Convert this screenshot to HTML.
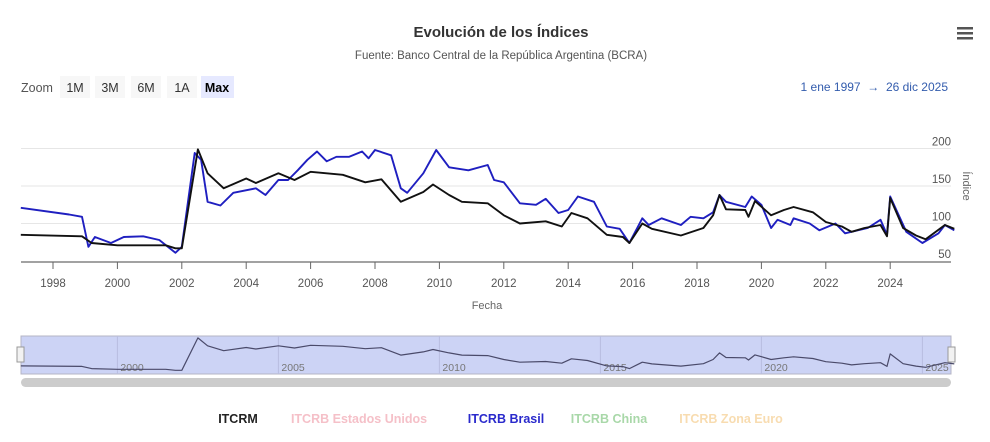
<!DOCTYPE html>
<html><head><meta charset="utf-8"><style>
body{margin:0;background:#fff;font-family:"Liberation Sans",sans-serif;}
svg{display:block}
text{font-family:"Liberation Sans",sans-serif}
</style></head><body>
<svg id="c" width="990" height="442" viewBox="0 0 990 442">
<text x="501" y="37" text-anchor="middle" font-size="15" font-weight="bold" fill="#333">Evolución de los Índices</text>
<text x="501" y="59" text-anchor="middle" font-size="11.5" fill="#555">Fuente: Banco Central de la República Argentina (BCRA)</text>
<g><rect x="957" y="27" width="16" height="2.5" fill="#555"/><rect x="957" y="32" width="16" height="2.5" fill="#555"/><rect x="957" y="37" width="16" height="2.5" fill="#555"/></g>
<text x="21" y="92" font-size="12.5" fill="#555">Zoom</text>
<g font-size="12.5" fill="#333">
<g><rect x="60" y="76" width="30" height="22" fill="#f7f7f7"/><text x="75" y="92" text-anchor="middle">1M</text></g>
<g><rect x="95" y="76" width="30" height="22" fill="#f7f7f7"/><text x="110" y="92" text-anchor="middle">3M</text></g>
<g><rect x="131" y="76" width="30" height="22" fill="#f7f7f7"/><text x="146" y="92" text-anchor="middle">6M</text></g>
<g><rect x="167" y="76" width="30" height="22" fill="#f7f7f7"/><text x="182" y="92" text-anchor="middle">1A</text></g>
<g><rect x="201" y="76" width="33" height="22" fill="#e6e9ff"/><text x="217" y="92" text-anchor="middle" font-weight="bold" fill="#000">Max</text></g>
</g>
<text x="948" y="91" text-anchor="end" font-size="12" fill="#335cad">1 ene 1997 &#160;→ &#160;26 dic 2025</text>
<g id="grid"></g>
<g id="series"></g>
<text transform="translate(963,186) rotate(90)" text-anchor="middle" font-size="11" fill="#666">Índice</text>
<text x="487" y="309" text-anchor="middle" font-size="11" fill="#666">Fecha</text>
<rect x="21" y="336" width="930" height="38" fill="#ccd3f5" stroke="#b5b5c5"/>
<g id="nav"></g>
<rect x="17" y="347" width="7" height="15" fill="#f2f2f2" stroke="#999"/>
<rect x="948" y="347" width="7" height="15" fill="#f2f2f2" stroke="#999"/>
<rect x="21" y="378" width="930" height="9" rx="4.5" fill="#ccc"/>
<g font-size="12.5" font-weight="bold">
<text x="238" y="423" text-anchor="middle" fill="#222">ITCRM</text>
<text x="359" y="423" text-anchor="middle" fill="#f5c0c8">ITCRB Estados Unidos</text>
<text x="506" y="423" text-anchor="middle" fill="#2a2acc">ITCRB Brasil</text>
<text x="609" y="423" text-anchor="middle" fill="#a9d8a9">ITCRB China</text>
<text x="731" y="423" text-anchor="middle" fill="#f8dcb0">ITCRB Zona Euro</text>
</g>
</svg>
<script>
const yTicks=[50,100,150,200];
const xTicks=[1998,2000,2002,2004,2006,2008,2010,2012,2014,2016,2018,2020,2022,2024];
const navTicks=[2000,2005,2010,2015,2020,2025];
const itcrmDates=[1997,1998.9,1999.2,2000,2001.5,2001.8,2002,2002.5,2002.8,2003.3,2004,2004.3,2005,2005.5,2006,2007,2007.7,2008.2,2008.8,2009.5,2009.8,2010.3,2010.7,2011.5,2012,2012.5,2013.3,2013.8,2014.1,2014.6,2015.2,2015.7,2015.9,2016.3,2016.6,2017.5,2018.2,2018.5,2018.7,2018.9,2019.5,2019.6,2019.8,2020.3,2020.7,2021,2021.6,2022,2022.5,2022.8,2023.2,2023.7,2023.9,2024,2024.4,2024.8,2025.1,2025.7,2025.99];
const itcrmValues=[85,83,74,71,71,67,67,199,167,147,160,154,167,158,169,165,155,159,129,142,152,138,129,127,111,100,103,96,114,107,85,82,74,100,93,84,94,111,138,119,118,109,130,111,118,122,115,102,96,89,94,98,83,134,94,84,79,98,93];
const brasilDates=[1997,1998.5,1998.9,1999.1,1999.3,1999.8,2000.2,2000.8,2001.3,2001.8,2002,2002.4,2002.6,2002.8,2003.2,2003.6,2004.3,2004.6,2005,2005.3,2005.6,2005.9,2006.2,2006.5,2006.8,2007.2,2007.6,2007.8,2008,2008.5,2008.8,2009,2009.5,2009.9,2010.3,2010.9,2011.5,2011.7,2012,2012.5,2013,2013.3,2013.7,2014,2014.3,2014.8,2015.2,2015.6,2015.9,2016.3,2016.5,2016.9,2017.5,2017.8,2018.2,2018.5,2018.7,2018.9,2019.5,2019.7,2020,2020.3,2020.5,2020.9,2021,2021.5,2021.8,2022.3,2022.6,2023.3,2023.7,2023.9,2024,2024.5,2025,2025.5,2025.7,2025.99];
const brasilValues=[121,112,109,69,82,74,82,83,78,61,69,194,185,129,124,141,147,138,158,158,171,185,196,183,189,189,196,187,198,191,147,141,167,198,175,171,178,158,155,127,125,133,114,118,136,129,96,93,74,107,98,107,98,109,107,115,138,129,122,136,125,94,105,98,107,100,91,100,87,94,105,85,136,89,74,87,98,91];
const NS='http://www.w3.org/2000/svg';
const X0=21,X1=951;
const x=t=>53+(t-1998)*32.2;
const y=v=>261-(v-50)*0.75;
const ny=v=>372-(v-60)*0.245;
function mk(tag,attrs,parent){const e=document.createElementNS(NS,tag);for(const k in attrs)e.setAttribute(k,attrs[k]);parent.appendChild(e);return e;}
const grid=document.getElementById('grid');
yTicks.forEach(v=>{
  if(v>50){const l=mk('line',{x1:X0,x2:X1,y1:y(v),y2:y(v),stroke:'#e6e6e6'},grid);
  
  }
  const t=mk('text',{x:951,y:y(v)-3,'text-anchor':'end','font-size':'11.5',fill:'#555'},grid);t.textContent=v;
  
  
});
mk('line',{x1:X0,x2:X1,y1:262,y2:262,stroke:'#444'},grid);
xTicks.forEach(v=>{
  mk('line',{x1:x(v),x2:x(v),y1:262,y2:269,stroke:'#666'},grid);
  const t=mk('text',{x:x(v),y:287,'text-anchor':'middle','font-size':'11.5',fill:'#555'},grid);t.textContent=v;
  
  
});
const s=document.getElementById('series');
function line(d,v,fy,col,w,par){return mk('path',{d:d.map((t,i)=>(i?'L':'M')+x(t).toFixed(1)+','+fy(v[i]).toFixed(1)).join(''),fill:'none',stroke:col,'stroke-width':w,'stroke-linejoin':'round'},par);}
const pb=line(brasilDates,brasilValues,y,'#1f1fc0',1.9,s);


const pi=line(itcrmDates,itcrmValues,y,'#111',1.9,s);


const nav=document.getElementById('nav');
navTicks.forEach(v=>{
  mk('line',{x1:x(v),x2:x(v),y1:336,y2:374,stroke:'#b8bde0'},nav);
  const t=mk('text',{x:x(v)+3,y:371,'font-size':'10.5',fill:'#777'},nav);t.textContent=v;
  
  
});
const pn=line(itcrmDates,itcrmValues,ny,'#4a4a6a',1.2,nav);


</script>
</body></html>
